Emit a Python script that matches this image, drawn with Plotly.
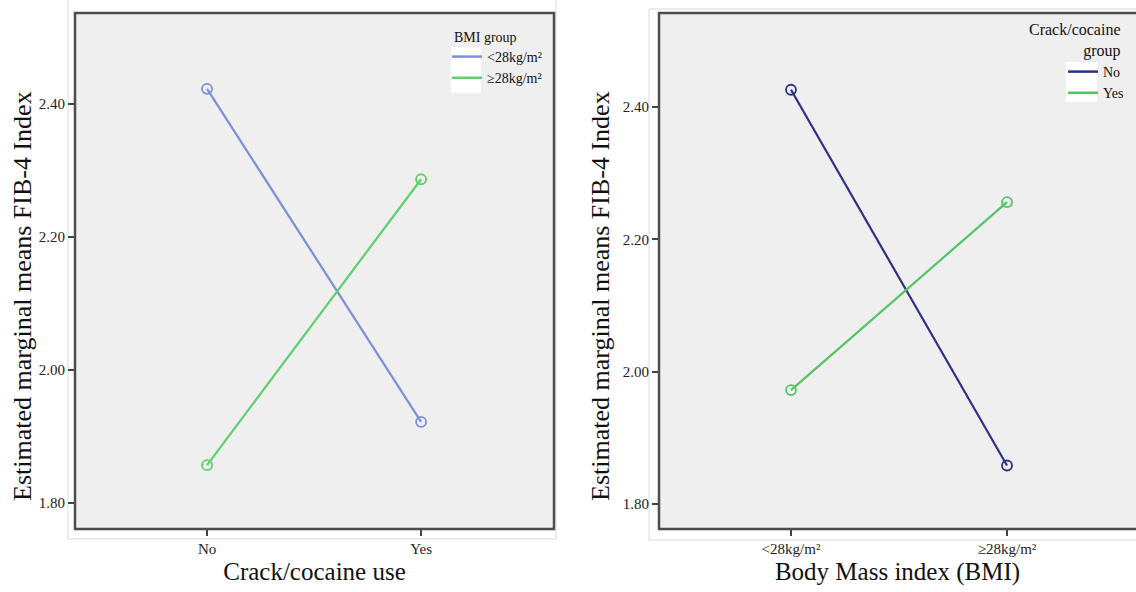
import plotly.graph_objects as go

# Estimated marginal means of FIB-4 index
crack_levels = ["No", "Yes"]
bmi_levels = ["<28kg/m²", "≥28kg/m²"]

# Left panel: x = crack/cocaine use, lines = BMI group
left_bmi_lt28 = [2.423, 1.922]
left_bmi_ge28 = [1.857, 2.287]

# Right panel: x = BMI group, lines = crack/cocaine group
right_crack_no = [2.426, 1.858]
right_crack_yes = [1.972, 2.256]

y_ticks = [1.80, 2.00, 2.20, 2.40]
y_ticktext = ["1.80", "2.00", "2.20", "2.40"]
y_title = "Estimated marginal means FIB-4 Index"

SERIF = "Liberation Serif"
W, H = 1136, 592

def px_x(v):
    return v / W

def px_y(v):
    return 1 - v / H

fig = go.Figure()

series = [
    ("<28kg/m²", left_bmi_lt28, "#7b8fd6", "x", "y", "legend"),
    ("≥28kg/m²", left_bmi_ge28, "#5fd06b", "x", "y", "legend"),
    ("No", right_crack_no, "#2e3088", "x2", "y2", "legend2"),
    ("Yes", right_crack_yes, "#52c462", "x2", "y2", "legend2"),
]

for name, vals, color, xa, ya, leg in series:
    # profile line with open-circle markers
    fig.add_trace(go.Scatter(
        x=[0, 1], y=vals, mode="lines+markers", name=name, showlegend=False,
        line=dict(color=color, width=2.2),
        marker=dict(symbol="circle-open", size=10, color=color, line=dict(width=1.8)),
        xaxis=xa, yaxis=ya))
    # line-only legend key
    fig.add_trace(go.Scatter(
        x=[None], y=[None], mode="lines", name=name, showlegend=True,
        line=dict(color=color, width=2.5), xaxis=xa, yaxis=ya, legend=leg))

tickfont = dict(family=SERIF, size=15, color="#222")
titlefont = dict(family=SERIF, size=25, color="#111")

common_x = dict(
    tickmode="array", tickvals=[0, 1], tickfont=tickfont,
    ticks="outside", ticklen=6, tickwidth=2, tickcolor="#444",
    showgrid=False, zeroline=False, showline=False, fixedrange=True)
common_y = dict(
    tickmode="array", tickvals=y_ticks, ticktext=y_ticktext, tickfont=tickfont,
    ticks="outside", ticklen=6, tickwidth=2, tickcolor="#444",
    showgrid=False, zeroline=False, showline=False, fixedrange=True)

legend_font = dict(family=SERIF, size=14, color="#111")

fig.update_layout(
    width=W, height=H,
    margin=dict(l=0, r=0, t=0, b=0),
    paper_bgcolor="white",
    plot_bgcolor="#efefef",
    showlegend=True,
    xaxis=dict(common_x, domain=[px_x(75), px_x(554)], range=[-0.617, 1.621],
               ticktext=crack_levels, anchor="y",
               title=dict(text="Crack/cocaine use", font=titlefont, standoff=6)),
    yaxis=dict(common_y, domain=[px_y(529), px_y(13)], range=[1.761, 2.537],
               anchor="x"),
    xaxis2=dict(common_x, domain=[px_x(659), 1.0], range=[-0.611, 1.597],
                ticktext=bmi_levels, anchor="y2",
                title=dict(text="Body Mass index (BMI)", font=titlefont, standoff=6)),
    yaxis2=dict(common_y, domain=[px_y(529), px_y(13)], range=[1.762, 2.542],
                anchor="x2"),
    legend=dict(
        x=px_x(447), y=px_y(41), xanchor="left", yanchor="top",
        bgcolor="rgba(0,0,0,0)", font=legend_font,
        itemwidth=30, tracegroupgap=0),
    legend2=dict(
        x=px_x(1063), y=px_y(56), xanchor="left", yanchor="top",
        bgcolor="rgba(0,0,0,0)", font=legend_font,
        itemwidth=30, tracegroupgap=0),
    annotations=[
        dict(text="BMI group", xref="paper", yref="paper",
             x=px_x(485), y=px_y(37), xanchor="center", yanchor="middle",
             showarrow=False, font=dict(family=SERIF, size=14, color="#111")),
        dict(text="Crack/cocaine<br>group", xref="paper", yref="paper",
             x=px_x(1123), y=px_y(19), xanchor="right", yanchor="top",
             align="right", showarrow=False,
             font=dict(family=SERIF, size=16, color="#111")),
        dict(text=y_title, xref="paper", yref="paper", textangle=-90,
             x=px_x(22), y=px_y(296), xanchor="center", yanchor="middle",
             showarrow=False, font=dict(family=SERIF, size=26, color="#111")),
        dict(text=y_title, xref="paper", yref="paper", textangle=-90,
             x=px_x(600), y=px_y(296), xanchor="center", yanchor="middle",
             showarrow=False, font=dict(family=SERIF, size=26, color="#111")),
    ],
)

shapes = []
# outer light frames around each panel
shapes.append(dict(type="rect", xref="paper", yref="paper",
                   x0=px_x(68), x1=px_x(556), y0=px_y(539), y1=px_y(-2),
                   line=dict(color="#dcdcdc", width=1), layer="below"))
shapes.append(dict(type="rect", xref="paper", yref="paper",
                   x0=px_x(649), x1=px_x(1140), y0=px_y(540), y1=px_y(9),
                   line=dict(color="#dcdcdc", width=1), layer="below"))
# dark plot-area borders
shapes.append(dict(type="rect", xref="paper", yref="paper",
                   x0=px_x(75), x1=px_x(554), y0=px_y(529), y1=px_y(13),
                   line=dict(color="#4d4d4d", width=2.5), layer="above"))
shapes.append(dict(type="rect", xref="paper", yref="paper",
                   x0=px_x(659), x1=px_x(1145), y0=px_y(529), y1=px_y(13),
                   line=dict(color="#4d4d4d", width=2.5), layer="above"))
# white patches behind legend keys
shapes.append(dict(type="rect", xref="paper", yref="paper",
                   x0=px_x(451), x1=px_x(481), y0=px_y(93), y1=px_y(47),
                   fillcolor="white", line=dict(width=0), layer="above"))
shapes.append(dict(type="rect", xref="paper", yref="paper",
                   x0=px_x(1066), x1=px_x(1097), y0=px_y(102), y1=px_y(62),
                   fillcolor="white", line=dict(width=0), layer="above"))
fig.update_layout(shapes=shapes)

fig.write_html("out.html")
